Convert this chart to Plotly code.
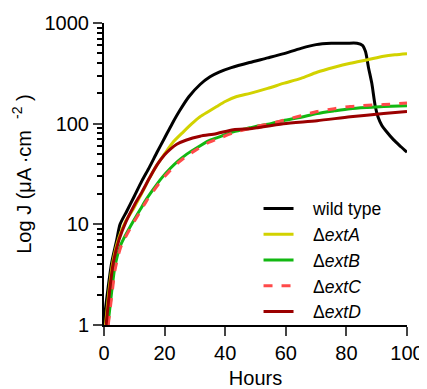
import plotly.graph_objects as go

# ---- data ----
wt_hours = [0, 0.3, 1.4, 2.5, 4.2, 5.3, 7.5, 10, 12.5, 15, 17.5, 20, 22.5, 25, 28, 31.7, 35, 38, 42, 48, 54, 59,
            65, 70, 75, 80, 83.5, 85.3, 86.3, 87.3, 88.4, 89.5, 90.5, 91.7, 93, 95.6, 98, 100]
wt_J = [1.05, 1.3, 2.4, 4.1, 7.0, 10, 13.5, 19, 27, 37, 52, 72, 100, 135, 185, 245, 292, 325, 360, 405, 450, 493,
        560, 610, 628, 630, 630, 600, 520, 360, 250, 150, 115, 96, 85, 69, 59, 52]

a_hours = [0.5, 1.8, 2.9, 4.8, 7, 10, 12.5, 15, 17.5, 20, 22.9, 26.2, 29, 31.7, 34.5, 37.2, 40, 43.8, 48.2, 54,
           59.2, 65, 70.3, 76, 81.3, 87, 92.3, 96, 100]
a_J = [1.0, 2.4, 4.2, 7.2, 10.5, 14.8, 20.4, 28.8, 39, 50, 66, 83, 100, 117, 132, 148, 166, 186, 200, 224,
       251, 282, 324, 363, 398, 432, 468, 484, 496]

b_hours = [1.3, 2.5, 3.6, 5.3, 6.5, 9.1, 12, 14, 16.3, 19, 22, 24.5, 27, 30, 34.5, 37.2, 42.7, 48.2, 50.4, 55,
           59.2, 65, 70.3, 76, 81.3, 87, 92.3, 100]
b_J = [1.0, 2.1, 3.8, 6.0, 7.2, 10, 14.1, 17.8, 22.4, 28.8, 36.3, 42.7, 49, 56, 67.6, 72.4, 83, 91, 94.4, 100,
       107, 116, 126, 134, 141, 145, 148, 151]

c_hours = [1.4, 2.6, 3.7, 5.4, 6.6, 9.1, 12, 14, 16.3, 19, 22, 24.5, 27, 30, 34.5, 37.2, 42.7, 48.2, 50.4, 55,
           59.2, 65, 70.3, 76, 81.3, 87, 92.3, 100]
c_J = [1.0, 2.0, 3.6, 5.8, 7.0, 9.6, 13.5, 17, 21.4, 27.5, 34.7, 41, 47, 54, 65, 70, 81, 90, 94, 100,
       108, 120, 132, 141, 148, 152, 155, 160]

d_hours = [0.7, 2, 3.1, 5, 7.3, 10, 12.5, 15, 17.5, 20, 22, 24, 27, 31.7, 37, 42.7, 48.2, 50.4, 59.2, 70.3,
           81.3, 92.3, 100]
d_J = [1.0, 2.4, 4.2, 7.1, 10.7, 15.5, 20.9, 28.8, 38.9, 49, 56.2, 62.4, 68.4, 75, 79.4, 87, 89, 91, 100, 107,
       117, 126, 132]

series_names = ["wild type", "Δ<i>extA</i>", "Δ<i>extB</i>", "Δ<i>extC</i>", "Δ<i>extD</i>"]
x_ticks = [0, 20, 40, 60, 80, 100]
y_ticks = [1, 10, 100, 1000]
y_tick_labels = ["1", "10", "100", "1000"]
y_minor = [2, 3, 4, 5, 6, 7, 8, 9, 20, 30, 40, 50, 60, 70, 80, 90, 200, 300, 400, 500, 600, 700, 800, 900]

colors = ["#000000", "#d2d200", "#12b812", "#ff4a4a", "#9b0000"]
dashes = ["solid", "solid", "solid", "dash", "solid"]
xs = [wt_hours, a_hours, b_hours, c_hours, d_hours]
ys = [wt_J, a_J, b_J, c_J, d_J]

FONT = "Liberation Sans, Arial, sans-serif"
PAD = "\u00a0\u00a0\u00a0"

fig = go.Figure()
for name, x, y, col, dsh in zip(series_names, xs, ys, colors, dashes):
    fig.add_trace(go.Scatter(
        x=x, y=y, mode="lines", name=PAD + name,
        line=dict(color=col, width=3, dash=dsh, shape="spline", smoothing=0.7),
    ))

# the page body has an 8px margin, so the figure is sized/margined to compensate
fig.update_layout(
    width=419, height=381,
    margin=dict(l=96, r=20, t=14.5, b=63.5),
    paper_bgcolor="white", plot_bgcolor="white",
    font=dict(family=FONT, color="black", size=20),
    showlegend=True,
    legend=dict(x=0.51, y=0.445, xanchor="left", yanchor="top",
                font=dict(size=17.5, family=FONT), bgcolor="rgba(0,0,0,0)",
                tracegroupgap=0, itemwidth=30),
)
fig.update_xaxes(
    range=[0, 100], tickvals=x_ticks, ticks="outside", ticklen=9, tickwidth=2,
    showline=True, linewidth=2, linecolor="black", showgrid=False, zeroline=False,
    tickfont=dict(size=20), title=dict(text="Hours", font=dict(size=20), standoff=10),
    automargin=False,
)
fig.update_yaxes(
    type="log", range=[0, 3], tickvals=y_ticks, ticktext=y_tick_labels,
    ticks="outside", ticklen=9, tickwidth=2,
    minor=dict(tickvals=y_minor, ticks="outside", ticklen=5, tickwidth=1.5, tickcolor="black", showgrid=False),
    showline=True, linewidth=2, linecolor="black", showgrid=False, zeroline=False,
    tickfont=dict(size=20),
    title=dict(text="Log J (μA ·cm\u00a0\u00a0<sup>-2</sup>\u00a0)", font=dict(size=20), standoff=8),
    automargin=False,
)

fig.write_html("out.html")
